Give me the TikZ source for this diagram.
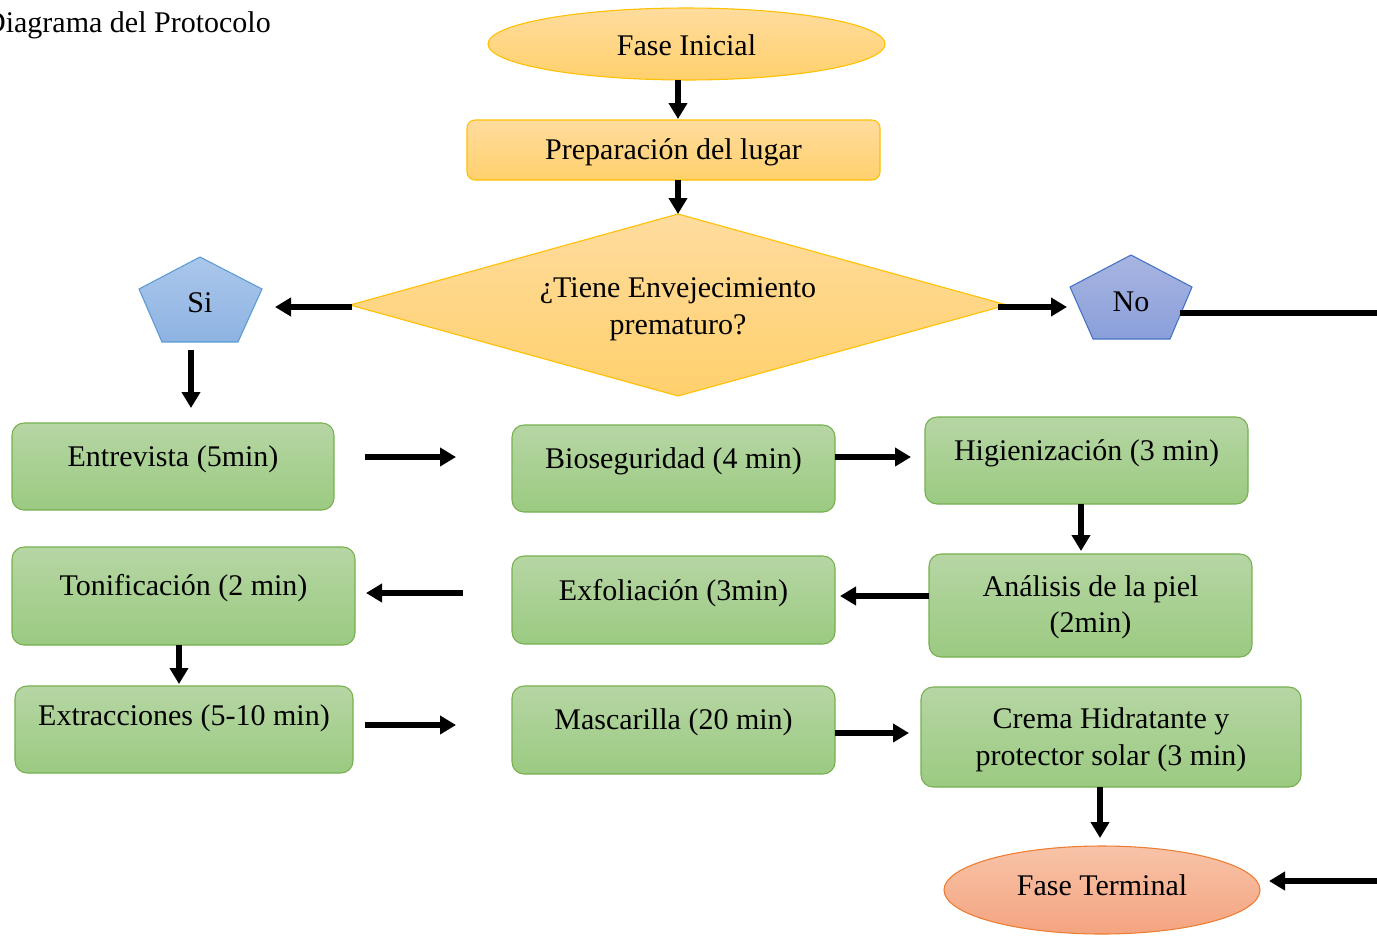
\documentclass[tikz,border=0pt]{standalone}
\usepackage{fontspec}
\setmainfont{Liberation Serif}
\usetikzlibrary{arrows.meta,shapes.geometric}
\definecolor{orTop}{HTML}{FFDC9E}
\definecolor{orBot}{HTML}{FFD06C}
\definecolor{orLine}{HTML}{FFC000}
\definecolor{grTop}{HTML}{B6D6A4}
\definecolor{grBot}{HTML}{9BCA81}
\definecolor{grLine}{HTML}{76B04F}
\definecolor{siTop}{HTML}{ABC7EB}
\definecolor{siBot}{HTML}{8DB3E2}
\definecolor{siLine}{HTML}{5B9BD5}
\definecolor{noTop}{HTML}{A8B5E1}
\definecolor{noBot}{HTML}{8A9FDA}
\definecolor{noLine}{HTML}{4472C4}
\definecolor{ftTop}{HTML}{F8C3A8}
\definecolor{ftBot}{HTML}{F4A480}
\definecolor{ftLine}{HTML}{ED7D31}
\tikzset{
  txt/.style={anchor=base, inner sep=0pt, font=\fontsize{22.5pt}{27.5pt}\selectfont},
  gbox/.style={draw=grLine, line width=0.8pt, rounded corners=9pt, top color=grTop, bottom color=grBot, inner sep=0pt},
  obox/.style={draw=orLine, line width=0.8pt, rounded corners=6pt, top color=orTop, bottom color=orBot, inner sep=0pt},
  oell/.style={ellipse, draw=orLine, line width=0.8pt, top color=orTop, bottom color=orBot, inner sep=0pt},
  fell/.style={ellipse, draw=ftLine, line width=0.8pt, top color=ftTop, bottom color=ftBot, inner sep=0pt},
  arr/.style={line width=3.9pt, -{Triangle[length=12pt,width=13.5pt]}},
  plainline/.style={line width=4.4pt}
}
\begin{document}
\begin{tikzpicture}[x=0.75pt,y=-0.75pt]
\useasboundingbox (0,0) rectangle (1377,936);
\clip (0,0) rectangle (1377,936);

% title
\node[txt, anchor=base east] (title) at (271,32) {Diagrama del Protocolo};

% top elements
\node[oell, minimum width=297.75pt, minimum height=54pt] (fi) at (686.5,44) {};
\node[txt] (tfi) at (686.5,55) {Fase Inicial};
\node[obox, minimum width=309.75pt, minimum height=45pt] (prep) at (673.5,150) {};
\node[txt] (tprep) at (673.5,159) {Preparación del lugar};

% diamond
\coordinate (dT) at (678,214);
\coordinate (dR) at (1007,305);
\coordinate (dB) at (678,396);
\coordinate (dL) at (350,305);
\path[draw=orLine, line width=0.8pt, top color=orTop, bottom color=orBot] (dT) -- (dR) -- (dB) -- (dL) -- cycle;
\node[txt] (td1) at (678,297) {¿Tiene Envejecimiento};
\node[txt] (td2) at (678,334) {prematuro?};

% Si pentagon
\coordinate (s1) at (200,257);
\coordinate (s2) at (262,289);
\coordinate (s3) at (238,342);
\coordinate (s4) at (162,342);
\coordinate (s5) at (139,289);
\path[draw=siLine, line width=0.8pt, top color=siTop, bottom color=siBot] (s1) -- (s2) -- (s3) -- (s4) -- (s5) -- cycle;
\node[txt] (tsi) at (200,312) {Si};

% No pentagon
\coordinate (n1) at (1131,255);
\coordinate (n2) at (1192,287);
\coordinate (n3) at (1170,339);
\coordinate (n4) at (1093,339);
\coordinate (n5) at (1070,287);
\path[draw=noLine, line width=0.8pt, top color=noTop, bottom color=noBot] (n1) -- (n2) -- (n3) -- (n4) -- (n5) -- cycle;
\node[txt] (tno) at (1131,311) {No};

% green boxes
\node[gbox, minimum width=241.5pt, minimum height=65.25pt] (ent) at (173,466.5) {};
\node[txt] (tent) at (173,466) {Entrevista (5min)};
\node[gbox, minimum width=242.25pt, minimum height=65.25pt] (bio) at (673.5,468.5) {};
\node[txt] (tbio) at (673.5,468) {Bioseguridad (4 min)};
\node[gbox, minimum width=242.25pt, minimum height=65.25pt] (hig) at (1086.5,460.5) {};
\node[txt] (thig) at (1086.5,460) {Higienización (3 min)};
\node[gbox, minimum width=242.25pt, minimum height=77.25pt] (ana) at (1090.5,605.5) {};
\node[txt] (tana1) at (1090.5,596) {Análisis de la piel};
\node[txt] (tana2) at (1090.5,632) {(2min)};
\node[gbox, minimum width=242.25pt, minimum height=66pt] (exf) at (673.5,600) {};
\node[txt] (texf) at (673.5,600) {Exfoliación (3min)};
\node[gbox, minimum width=257.25pt, minimum height=73.5pt] (ton) at (183.5,596) {};
\node[txt] (tton) at (183.5,595) {Tonificación (2 min)};
\node[gbox, minimum width=253.5pt, minimum height=65.25pt] (ext) at (184,729.5) {};
\node[txt] (text) at (184,725) {Extracciones (5-10 min)};
\node[gbox, minimum width=242.25pt, minimum height=66pt] (mas) at (673.5,730) {};
\node[txt] (tmas) at (673.5,729) {Mascarilla (20 min)};
\node[gbox, minimum width=285pt, minimum height=75pt] (cre) at (1111,737) {};
\node[txt] (tcre1) at (1111,728) {Crema Hidratante y};
\node[txt] (tcre2) at (1111,765) {protector solar (3 min)};

% terminal
\node[fell, minimum width=237pt, minimum height=66pt] (ft) at (1102,890) {};
\node[txt] (tft) at (1102,895) {Fase Terminal};

% arrow end points
\coordinate (a1s) at (678,80);   \coordinate (a1e) at (678,119);
\coordinate (a2s) at (678,180);  \coordinate (a2e) at (678,214);
\coordinate (a3e) at (275,307);  \coordinate (a3s) at (352,307);
\coordinate (a4s) at (998,307);  \coordinate (a4e) at (1067,307);
\coordinate (a5s) at (191,350);  \coordinate (a5e) at (191,408);
\coordinate (a6s) at (365,457);  \coordinate (a6e) at (456,457);
\coordinate (a7s) at (835,457);  \coordinate (a7e) at (911,457);
\coordinate (a8s) at (1081,504); \coordinate (a8e) at (1081,551);
\coordinate (a9s) at (929,596);  \coordinate (a9e) at (840,596);
\coordinate (a10s) at (463,593); \coordinate (a10e) at (366,593);
\coordinate (a11s) at (179,645); \coordinate (a11e) at (179,684);
\coordinate (a12s) at (365,725); \coordinate (a12e) at (456,725);
\coordinate (a13s) at (835,733); \coordinate (a13e) at (909,733);
\coordinate (a14s) at (1100,787);\coordinate (a14e) at (1100,838);
\coordinate (l1s) at (1180,313); \coordinate (l1e) at (1380,313);
\coordinate (a15s) at (1380,881);\coordinate (a15e) at (1269,881);

\draw[arr] (a1s) -- (a1e);
\draw[arr] (a2s) -- (a2e);
\draw[arr] (a3s) -- (a3e);
\draw[arr] (a4s) -- (a4e);
\draw[arr] (a5s) -- (a5e);
\draw[arr] (a6s) -- (a6e);
\draw[arr] (a7s) -- (a7e);
\draw[arr] (a8s) -- (a8e);
\draw[arr] (a9s) -- (a9e);
\draw[arr] (a10s) -- (a10e);
\draw[arr] (a11s) -- (a11e);
\draw[arr] (a12s) -- (a12e);
\draw[arr] (a13s) -- (a13e);
\draw[arr] (a14s) -- (a14e);
\draw[plainline] (l1s) -- (l1e);
\draw[arr] (a15s) -- (a15e);
\end{tikzpicture}
\end{document}
